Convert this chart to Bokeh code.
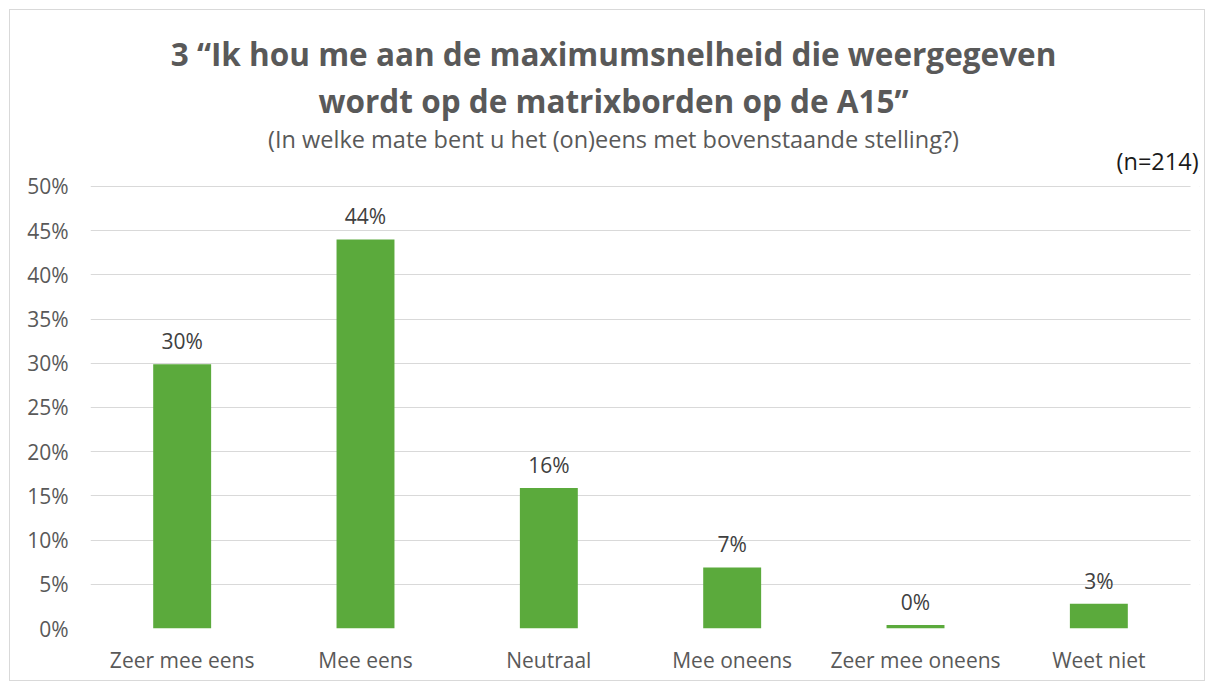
from bokeh.plotting import figure
from bokeh.models import Range1d, FixedTicker, LabelSet, Label, ColumnDataSource, BoxAnnotation
from bokeh.core.properties import value
from bokeh.embed import file_html
from bokeh.resources import INLINE

categories = ["Zeer mee eens", "Mee eens", "Neutraal", "Mee oneens", "Zeer mee oneens", "Weet niet"]
values = [29.9, 44.0, 15.9, 6.9, 0.4, 2.8]
value_labels = ["30%", "44%", "16%", "7%", "0%", "3%"]
y_ticks = [0, 5, 10, 15, 20, 25, 30, 35, 40, 45, 50]
y_tick_labels = ["0%", "5%", "10%", "15%", "20%", "25%", "30%", "35%", "40%", "45%", "50%"]

title_line1 = "3 \u201cIk hou me aan de maximumsnelheid die weergegeven"
title_line2 = "wordt op de matrixborden op de A15\u201d"
subtitle = "(In welke mate bent u het (on)eens met bovenstaande stelling?)"
n_label = "(n=214)"

FONT = "Open Sans"
GRAY = "#595959"
GREEN = "#5BAA3C"

centers = [i + 0.5 for i in range(len(categories))]

p = figure(x_range=Range1d(0, 6.049), y_range=Range1d(0, 69.9), width=1196, height=672,
           output_backend="svg", toolbar_location=None, title=None,
           min_border_left=80, min_border_right=7, min_border_bottom=54, min_border_top=0)
p.styles = {"border": "1px solid #d9d9d9", "margin-left": "9px", "margin-top": "9px"}
p.outline_line_color = None
p.background_fill_color = "white"

src = ColumnDataSource(dict(x=centers, val=values, lab=value_labels))
p.vbar(x="x", top="val", width=0.316, source=src, fill_color=GREEN, line_color=None)

labels = LabelSet(x="x", y="val", text="lab", source=src, text_align="center",
                  text_baseline="bottom", y_offset=9, text_font=value(FONT),
                  text_font_size="21px", text_color="#404040")
p.add_layout(labels)

p.xgrid.visible = False
p.ygrid.grid_line_color = "#d9d9d9"
p.ygrid.grid_line_width = 1

# keep gridlines within the category area (mask the strip right of the last category)
p.add_layout(BoxAnnotation(left=len(categories), top=51, fill_color="white", fill_alpha=1.0,
                           line_color=None, level="underlay"))

p.yaxis.ticker = FixedTicker(ticks=y_ticks)
p.yaxis.major_label_overrides = {t: l for t, l in zip(y_ticks, y_tick_labels)}
p.yaxis.axis_line_color = None
p.yaxis.major_tick_line_color = None
p.yaxis.minor_tick_line_color = None
p.yaxis.major_tick_out = 0
p.yaxis.major_label_standoff = 22
p.yaxis.major_label_text_font = FONT
p.yaxis.major_label_text_font_size = "21px"
p.yaxis.major_label_text_color = GRAY

p.xaxis.ticker = FixedTicker(ticks=centers)
p.xaxis.major_label_overrides = {c: n for c, n in zip(centers, categories)}
p.xaxis.axis_line_color = None
p.xaxis.major_tick_line_color = None
p.xaxis.minor_tick_line_color = None
p.xaxis.major_tick_out = 0
p.xaxis.major_label_standoff = 17
p.xaxis.major_label_text_font = FONT
p.xaxis.major_label_text_font_size = "21px"
p.xaxis.major_label_text_color = GRAY

p.add_layout(Label(x=2.853, y=65.0, text=title_line1, text_align="center", text_baseline="middle",
                   text_font=FONT, text_font_size="31.5px", text_font_style="bold", text_color=GRAY))
p.add_layout(Label(x=2.853, y=59.7, text=title_line2, text_align="center", text_baseline="middle",
                   text_font=FONT, text_font_size="31.5px", text_font_style="bold", text_color=GRAY))
p.add_layout(Label(x=2.853, y=55.4, text=subtitle, text_align="center", text_baseline="middle",
                   text_font=FONT, text_font_size="23.5px", text_color=GRAY))
p.add_layout(Label(x=6.044, y=52.9, text=n_label, text_align="right", text_baseline="middle",
                   text_font=FONT, text_font_size="23.5px", text_color="#1a1a1a"))

open("out.html", "w").write(file_html(p, INLINE))
